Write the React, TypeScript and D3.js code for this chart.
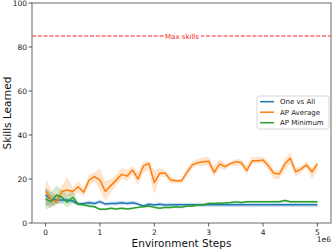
import React from "react";
import * as d3 from "d3";

const steps = [0, 0.1, 0.2, 0.3, 0.4, 0.5, 0.6, 0.7, 0.8, 0.9, 1.0, 1.1, 1.2, 1.3, 1.4, 1.5, 1.6, 1.7, 1.8, 1.9, 2.0, 2.1, 2.2, 2.3, 2.4, 2.5, 2.6, 2.7, 2.8, 2.9, 3.0, 3.1, 3.2, 3.3, 3.4, 3.5, 3.6, 3.7, 3.8, 3.9, 4.0, 4.1, 4.2, 4.3, 4.4, 4.5, 4.6, 4.7, 4.8, 4.9, 5.0];

const apAvg = [14.5, 10.8, 9.5, 14.3, 15.0, 14.3, 16.5, 14.0, 19.5, 21.1, 19.5, 14.3, 17, 19.5, 22.1, 21.4, 24.1, 20, 25.9, 27.1, 18.3, 22.6, 22.6, 19.5, 19.2, 19.2, 23, 26.4, 27.4, 27.8, 28.1, 23, 26.8, 25.6, 27, 27.9, 27.4, 23.8, 28.3, 28.3, 28.6, 25.9, 22.6, 22.3, 26.8, 29.4, 23.3, 24.5, 26.4, 23.3, 26.8];
const apAvgLo = [8, 7, 8, 12, 12, 12, 14, 12, 17, 19, 15, 10, 14, 17, 20, 19, 22, 17, 23, 24, 13, 21, 21, 18, 18, 18, 21, 25, 26, 26, 26, 21, 25, 24, 26, 26, 26, 22, 27, 27, 27, 24, 20, 20, 24, 27, 21, 23, 25, 20, 24];
const apAvgHi = [20, 15, 12, 17, 21, 16, 19, 16, 22, 23, 25, 19, 20, 22, 25, 24, 26, 23, 28, 28, 24, 25, 24, 21, 20, 20, 25, 28, 29, 30, 30, 26, 29, 27, 28, 29, 29, 26, 30, 30, 30, 28, 24, 24, 29, 32, 25, 26, 28, 25, 28];

const oneVsAll = [12.7, 10.8, 10.5, 10.5, 10.5, 10, 8.6, 8.9, 9.2, 8.9, 9.7, 8.6, 8.9, 8.9, 9.2, 8.9, 9.2, 8.6, 7.7, 8.5, 8.2, 8.5, 8.2, 8.3, 8.3, 8.3, 8.3, 8.3, 8.3, 8.3, 8.3, 8.3, 8.3, 8.3, 8.3, 8.3, 8.3, 8.3, 8.3, 8.3, 8.3, 8.3, 8.3, 8.3, 8.3, 8.3, 8.3, 8.3, 8.3, 8.3, 8.3];
const oneVsAllLo = [8, 8, 8.5, 9, 9.5, 9, 8, 8.2, 8.2, 8, 8.7, 7.8, 8, 8, 8.3, 8, 8.3, 7.8, 7, 7.6, 7.4, 7.6, 7.3, 7.3, 7.3, 7.3, 7.3, 7.3, 7.3, 7.3, 7.3, 7.3, 7.3, 7.3, 7.3, 7.3, 7.3, 7.3, 7.3, 7.3, 7.3, 7.3, 7.3, 7.3, 7.3, 7.3, 7.3, 7.3, 7.3, 7.3, 7.3];
const oneVsAllHi = [16, 13, 12.5, 12, 11.5, 11, 9.3, 9.6, 10.2, 9.8, 10.7, 9.4, 9.8, 9.8, 10.1, 9.8, 10.1, 9.4, 8.4, 9.4, 9, 9.4, 9.1, 9.2, 9.2, 9.2, 9.2, 9.2, 9.2, 9.2, 9.2, 9.2, 9.2, 9.2, 9.2, 9.2, 9.2, 9.2, 9.2, 9.2, 9.2, 9.2, 9.2, 9.2, 9.2, 9.2, 9.2, 9.2, 9.2, 9.2, 9.2];

const apMin = [10.9, 9.7, 12.7, 11.7, 9.4, 11.7, 8.5, 8.2, 7.7, 7.4, 6.2, 6.2, 6.7, 6.4, 6.7, 6.4, 6.7, 7.1, 7.4, 7.7, 7.1, 6.7, 7.1, 7.0, 7.4, 7.1, 7.7, 7.7, 8.2, 8.2, 8.9, 8.9, 9.0, 9.1, 9.3, 9.6, 9.3, 9.7, 9.7, 9.7, 9.7, 9.7, 9.7, 9.7, 10.2, 9.7, 9.7, 9.7, 9.7, 9.7, 9.7];
const apMinLo = [6, 7, 9, 9, 7, 9, 7.8, 7.6, 7.1, 6.8, 5.7, 5.7, 6.2, 5.9, 6.2, 5.9, 6.2, 6.6, 6.9, 7.2, 6.6, 6.2, 6.6, 6.5, 6.9, 6.6, 7.2, 7.2, 7.7, 7.7, 8.4, 8.4, 8.5, 8.6, 8.8, 9.1, 8.8, 9.2, 9.2, 9.2, 9.2, 9.2, 9.2, 9.2, 9.6, 9.2, 9.2, 9.2, 9.2, 9.2, 9.2];
const apMinHi = [16, 14, 17, 15, 13, 15, 9.5, 8.8, 8.3, 8, 6.7, 6.7, 7.2, 6.9, 7.2, 6.9, 7.2, 7.6, 7.9, 8.2, 7.6, 7.2, 7.6, 7.5, 7.9, 7.6, 8.2, 8.2, 8.7, 8.7, 9.4, 9.4, 9.5, 9.6, 9.8, 10.1, 9.8, 10.2, 10.2, 10.2, 10.2, 10.2, 10.2, 10.2, 10.8, 10.2, 10.2, 10.2, 10.2, 10.2, 10.2];

const maxSkills = 85;
const xTicks = [0, 1, 2, 3, 4, 5];
const yTicks = [0, 20, 40, 60, 80, 100];
const seriesNames = ["One vs All", "AP Average", "AP Minimum"];
const colors = ["#1f77b4", "#ff7f0e", "#2ca02c"];

const W = 332, H = 249;
const L = 32, R = 331, T = 3, B = 223;
const font = "DejaVu Sans, sans-serif";

export default function App() {
  const x = d3.scaleLinear().domain([-0.25, 5.25]).range([L, R]);
  const y = d3.scaleLinear().domain([0, 100]).range([B, T]);

  const series = [
    { mean: oneVsAll, lo: oneVsAllLo, hi: oneVsAllHi },
    { mean: apAvg, lo: apAvgLo, hi: apAvgHi },
    { mean: apMin, lo: apMinLo, hi: apMinHi },
  ];

  const line = (vals: number[]) =>
    d3.line<number>().x((_, i) => x(steps[i])).y((d) => y(d))(vals) || "";
  const area = (lo: number[], hi: number[]) =>
    d3
      .area<number>()
      .x((_, i) => x(steps[i]))
      .y0((_, i) => y(lo[i]))
      .y1((_, i) => y(hi[i]))(lo) || "";

  const axisColor = "#808080";
  const lx = 257, ly = 96;

  return (
    <svg width={W} height={H} style={{ position: "absolute", left: 0, top: 0, background: "#fff" }} fontFamily={font}>
      <defs>
        <clipPath id="plot">
          <rect x={L} y={T} width={R - L} height={B - T} />
        </clipPath>
      </defs>
      <g clipPath="url(#plot)">
        {series.map((s, i) => (
          <path key={"a" + i} d={area(s.lo, s.hi)} fill={colors[i]} fillOpacity={0.22} stroke="none" />
        ))}
        {series.map((s, i) => (
          <path key={"l" + i} d={line(s.mean)} fill="none" stroke={colors[i]} strokeWidth={1.5} strokeLinejoin="round" />
        ))}
        <line x1={L} x2={R} y1={y(maxSkills)} y2={y(maxSkills)} stroke="#ff2020" strokeWidth={1.2} strokeDasharray="4,1.8" />
      </g>
      <rect x={164} y={y(maxSkills) - 5} width={37} height={10} fill="#fff" />
      <text x={182} y={y(maxSkills) + 2.5} fontSize={7} fill="#ff2020" textAnchor="middle">Max skills</text>

      <rect x={L} y={T} width={R - L} height={B - T} fill="none" stroke={axisColor} strokeWidth={1.2} />

      {xTicks.map((t) => (
        <g key={"x" + t}>
          <line x1={x(t)} x2={x(t)} y1={B} y2={B + 3.5} stroke="#333" strokeWidth={0.8} />
          <text x={x(t)} y={B + 11.5} fontSize={7.5} textAnchor="middle" fill="#222">{t}</text>
        </g>
      ))}
      {yTicks.map((t) => (
        <g key={"y" + t}>
          <line x1={L - 3.5} x2={L} y1={y(t)} y2={y(t)} stroke="#333" strokeWidth={0.8} />
          <text x={L - 5} y={y(t) + 2.7} fontSize={7.5} textAnchor="end" fill="#222">{t}</text>
        </g>
      ))}
      <text x={R} y={B + 19} fontSize={7.5} textAnchor="end" fill="#222">1e6</text>
      <text x={(L + R) / 2} y={247} fontSize={10.5} textAnchor="middle" fill="#111">Environment Steps</text>
      <text transform={`translate(10.5,${(T + B) / 2}) rotate(-90)`} fontSize={10.5} textAnchor="middle" fill="#111">Skills Learned</text>

      <rect x={lx} y={ly} width={72} height={33} rx={2} fill="#fff" fillOpacity={0.8} stroke="#ccc" strokeWidth={0.8} />
      {seriesNames.map((n, i) => (
        <g key={n}>
          <line x1={lx + 3} x2={lx + 17} y1={ly + 5.7 + i * 10.5} y2={ly + 5.7 + i * 10.5} stroke={colors[i]} strokeWidth={1.5} />
          <text x={lx + 23} y={ly + 8.2 + i * 10.5} fontSize={7} fill="#222">{n}</text>
        </g>
      ))}
    </svg>
  );
}
